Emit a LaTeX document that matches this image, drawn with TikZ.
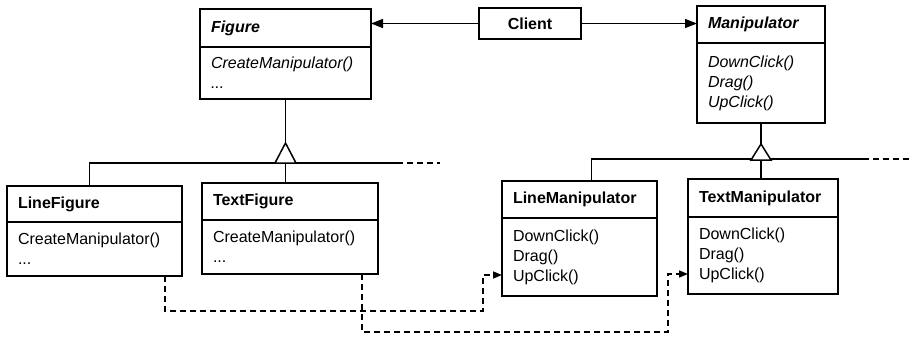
\documentclass[tikz,border=0pt]{standalone}
\usepackage{fontspec}
\setmainfont{Liberation Sans}
\usetikzlibrary{arrows.meta}
\tikzset{
  box/.style={draw, line width=1.6pt, anchor=north west, outer sep=0pt, inner xsep=11pt, inner ysep=0pt, align=left, font=\fontsize{16}{20}\selectfont},
  ln/.style={line width=1.5pt},
  dsh/.style={line width=1.5pt, dash pattern=on 6pt off 4pt},
  arr/.style={line width=1.5pt, -{Triangle[length=12pt,width=9pt]}},
  darr/.style={dsh, -{Triangle[length=9pt,width=7pt]}},
}
\begin{document}
\begin{tikzpicture}
\useasboundingbox (0,0) rectangle (910pt,-337pt);
% Figure
\node[box, text width=149pt, minimum width=171pt, minimum height=38pt] (fig) at (200pt,-9pt) {\textbf{\textit{Figure}}};
\node[box, text width=149pt, minimum width=171pt, minimum height=52pt] (figb) at (fig.south west) {\textit{CreateManipulator()}\\\textit{...}};
% Client
\node[box, align=center, text width=80pt, minimum width=102pt, minimum height=31pt] (client) at (479pt,-8pt) {\textbf{Client}};
% Manipulator
\node[box, text width=106pt, minimum width=128pt, minimum height=37pt] (man) at (697pt,-6pt) {\textbf{\textit{Manipulator}}};
\node[box, text width=106pt, minimum width=128pt, minimum height=80pt] (manb) at (man.south west) {\textit{DownClick()}\\\textit{Drag()}\\\textit{UpClick()}};
% LineFigure
\node[box, text width=153pt, minimum width=175pt, minimum height=36pt] (lf) at (7pt,-186pt) {\textbf{LineFigure}};
\node[box, text width=153pt, minimum width=175pt, minimum height=54pt] (lfb) at (lf.south west) {CreateManipulator()\\...};
% TextFigure
\node[box, text width=154pt, minimum width=176pt, minimum height=37pt] (tf) at (202pt,-183pt) {\textbf{TextFigure}};
\node[box, text width=154pt, minimum width=176pt, minimum height=54pt] (tfb) at (tf.south west) {CreateManipulator()\\...};
% LineManipulator
\node[box, text width=133pt, minimum width=155pt, minimum height=37pt] (lm) at (502pt,-181pt) {\textbf{LineManipulator}};
\node[box, text width=133pt, minimum width=155pt, minimum height=78pt] (lmb) at (lm.south west) {DownClick()\\Drag()\\UpClick()};
% TextManipulator
\node[box, text width=128pt, minimum width=150pt, minimum height=38pt] (tm) at (688pt,-179pt) {\textbf{TextManipulator}};
\node[box, text width=128pt, minimum width=150pt, minimum height=77pt] (tmb) at (tm.south west) {DownClick()\\Drag()\\UpClick()};

% Client associations
\draw[arr] (client.west) -- (client.west -| fig.east);
\draw[arr] (client.east) -- (client.east -| man.west);

% Figure inheritance
\coordinate (t1) at ([yshift=-44pt]figb.south);
\coordinate (h1) at ([yshift=-20pt]t1);
\coordinate (h1e) at (397pt,-163pt);
\coordinate (h1d) at (440pt,-163pt);
\draw[ln] (figb.south) -- (t1);
\draw[ln] ([xshift=-5pt]lf.north) |- (h1e);
\draw[dsh] (h1e) -- (h1d);
\draw[ln] (h1) -- (tf.north -| h1);
\draw[ln, fill=white, line join=miter] (t1) -- ([xshift=-10.5pt]h1) -- ([xshift=10.5pt]h1) -- cycle;

% Manipulator inheritance
\coordinate (t2) at ([yshift=-21pt]manb.south);
\coordinate (h2) at ([yshift=-16pt]t2);
\coordinate (h2e) at (863pt,-159pt);
\coordinate (h2d) at (910pt,-159pt);
\draw[ln] (manb.south) -- (t2);
\draw[ln] ([xshift=12pt]lm.north) |- (h2e);
\draw[dsh] (h2e) -- (h2d);
\draw[ln] (h2) -- (tm.north -| h2);
\draw[ln, fill=white, line join=miter] (t2) -- ([xshift=-10pt]h2) -- ([xshift=10pt]h2) -- cycle;

% Dashed creation links
\coordinate (d1) at (483pt,-311pt);
\coordinate (u1) at ([yshift=21pt]lmb.south west);
\draw[darr] ([xshift=-17pt]lfb.south east) |- (d1) |- (u1);
\coordinate (d2) at (668pt,-332pt);
\coordinate (u2) at ([yshift=20pt]tmb.south west);
\draw[darr] ([xshift=-16pt]tfb.south east) |- (d2) |- (u2);
\end{tikzpicture}
\end{document}
